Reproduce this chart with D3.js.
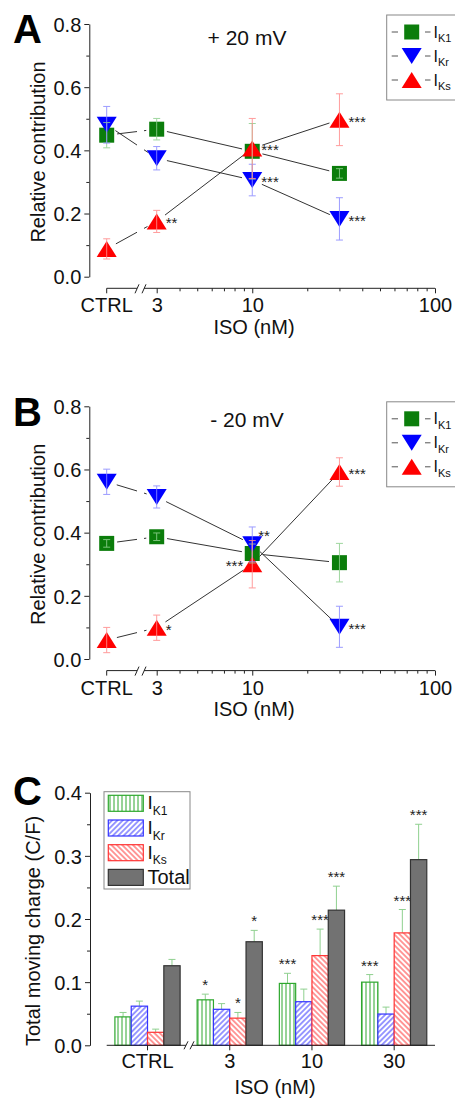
<!DOCTYPE html>
<html>
<head>
<meta charset="utf-8">
<script src="https://cdn.jsdelivr.net/npm/d3@7"></script>
<style>
  body { margin: 0; background: #fff; }
  text { font-family: "Liberation Sans", Arial, sans-serif; fill: #111; }
</style>
</head>
<body>
<div id="chart"></div>
<script>
/* global d3 */

// ---- data ----
const conc = ["CTRL", 3, 10, 30];
const subs = ["K1", "Kr", "Ks"];

// panel A (+20 mV), relative contribution
const aK1 = [0.448, 0.467, 0.397, 0.327];
const aK1Err = [0.04, 0.034, 0.088, 0.015];
const aKr = [0.481, 0.375, 0.306, 0.183];
const aKrErr = [0.058, 0.037, 0.05, 0.067];
const aKs = [0.088, 0.175, 0.406, 0.497];
const aKsErr = [0.032, 0.035, 0.095, 0.082];
const aK1Stars = ["", "", "", ""];
const aKrStars = ["", "", "***", "***"];
const aKsStars = ["", "**", "***", "***"];

// panel B (-20 mV)
const bK1 = [0.366, 0.387, 0.334, 0.305];
const bK1Err = [0.012, 0.012, 0.03, 0.061];
const bKr = [0.561, 0.513, 0.363, 0.102];
const bKrErr = [0.04, 0.035, 0.055, 0.065];
const bKs = [0.06, 0.099, 0.30, 0.592];
const bKsErr = [0.04, 0.04, 0.075, 0.045];
const bK1Stars = ["", "", "", ""];
const bKrStars = ["", "", "**", "***"];
const bKsStars = ["", "*", "***", "***"];
// where the star label sits: r = right, l = left, u = upper right
const bKrSide = ["r", "r", "u", "r"];
const bKsSide = ["r", "r", "l", "r"];

// panel C, total moving charge
const groups = ["CTRL", "3", "10", "30"];
const barKeys = ["IK1", "IKr", "IKs", "Total"];
const cK1 = [0.045, 0.072, 0.098, 0.100];
const cK1Err = [0.007, 0.009, 0.016, 0.012];
const cKr = [0.062, 0.057, 0.069, 0.0495];
const cKrErr = [0.008, 0.009, 0.02, 0.011];
const cKs = [0.0206, 0.043, 0.142, 0.178];
const cKsErr = [0.005, 0.009, 0.042, 0.037];
const cTot = [0.126, 0.164, 0.214, 0.294];
const cTotErr = [0.01, 0.018, 0.038, 0.056];
const cK1Stars = ["", "*", "***", "***"];
const cKrStars = ["", "", "", ""];
const cKsStars = ["", "*", "***", "***"];
const cTotStars = ["", "*", "***", "***"];

// ---- setup ----
const svg = d3.select("#chart").append("svg")
  .attr("width", 455).attr("height", 1100);

const green = "#0b7d0b", blue = "#0000ff", red = "#ff0000";
const axisColor = "#222";

const defs = svg.append("defs");
function hatch(id, color, angle, gap) {
  const p = defs.append("pattern")
    .attr("id", id)
    .attr("patternUnits", "userSpaceOnUse")
    .attr("width", gap).attr("height", gap)
    .attr("patternTransform", `rotate(${angle})`);
  p.append("rect").attr("width", gap).attr("height", gap).attr("fill", "#fff");
  p.append("line")
    .attr("x1", gap / 2).attr("x2", gap / 2)
    .attr("y1", 0).attr("y2", gap)
    .attr("stroke", color).attr("stroke-width", 1);
}
hatch("hK1", "#2ea82e", 0, 4);
hatch("hKr", "#3333ff", 45, 3.8);
hatch("hKs", "#ff3333", -45, 3.8);

// x scale shared by A and B (log, with broken-off CTRL position)
const x = d3.scaleLog().domain([3, 100]).range([156.7, 435]);
const xc = d => d === "CTRL" ? x(3) - 50 : x(d);
const breakL = 137, breakR = 144;

const shapes = {
  square: "M-7.5,-7.5H7.5V7.5H-7.5Z",
  down: "M-10,-8L10,-8L0,8Z",
  up: "M-10,8L10,8L0,-8Z"
};

function panelLetter(g, letter, yb) {
  g.append("text")
    .attr("x", 13).attr("y", yb)
    .style("font-size", "40px").style("font-weight", "bold")
    .style("fill", "#000")
    .text(letter);
}

function subLabel(g, xPos, yPos, sub, size, subSize) {
  const t = g.append("text").attr("x", xPos).attr("y", yPos)
    .style("font-size", size + "px");
  t.append("tspan").text("I");
  t.append("tspan").attr("dy", size * 0.3).style("font-size", subSize + "px").text(sub);
}

function linePanel(off, letter, title, series, legTop) {
  const g = svg.append("g").attr("transform", `translate(0,${off})`);
  const y = d3.scaleLinear().domain([0, 0.8]).range([276.7, 24]);
  const axisY = 288.3;

  // y axis
  const yAx = g.append("g").attr("transform", "translate(89.3,0)")
    .call(d3.axisLeft(y).tickValues([0, 0.2, 0.4, 0.6, 0.8])
      .tickFormat(d3.format(".1f")).tickSize(5).tickSizeOuter(0).tickPadding(3));
  yAx.selectAll("text").style("font-size", "20px").attr("dy", "0.36em");
  g.append("g").attr("transform", "translate(89.3,0)")
    .call(d3.axisLeft(y).tickValues([0.1, 0.3, 0.5, 0.7]).tickFormat("").tickSize(3).tickSizeOuter(0))
    .select(".domain").remove();

  // x axis
  const xAx = g.append("g").attr("transform", `translate(0,${axisY})`)
    .call(d3.axisBottom(x).tickValues([3, 10, 100]).tickFormat(d3.format("d"))
      .tickSize(5).tickSizeOuter(0).tickPadding(5));
  xAx.select(".domain").remove();
  xAx.selectAll("text").style("font-size", "20px");
  g.append("g").attr("transform", `translate(0,${axisY})`)
    .call(d3.axisBottom(x).tickValues([4, 5, 6, 7, 8, 9, 20, 30, 40, 50, 60, 70, 80, 90])
      .tickFormat("").tickSize(3).tickSizeOuter(0))
    .select(".domain").remove();
  const xa = g.append("g").attr("transform", `translate(0,${axisY})`);
  xa.append("path")
    .attr("d", `M${xc("CTRL")},0H${breakL}M${breakR},0H${x(100)}`)
    .attr("stroke", axisColor).attr("fill", "none");
  xa.append("line").attr("x1", xc("CTRL")).attr("x2", xc("CTRL"))
    .attr("y1", 0).attr("y2", 5).attr("stroke", axisColor);
  xa.append("text").attr("x", xc("CTRL")).attr("y", 10).attr("dy", "0.71em")
    .attr("text-anchor", "middle").style("font-size", "20px").text("CTRL");
  [breakL, breakR].forEach(bx => {
    xa.append("line").attr("x1", bx - 2).attr("y1", 5).attr("x2", bx + 2).attr("y2", -4)
      .attr("stroke", axisColor);
  });
  g.selectAll(".tick line").attr("stroke", axisColor);
  g.selectAll(".domain").attr("stroke", axisColor);

  // axis titles
  g.append("text").attr("transform", "translate(44.5,152) rotate(-90)")
    .attr("text-anchor", "middle").style("font-size", "20px")
    .text("Relative contribution");
  g.append("text").attr("x", 254).attr("y", 333.5)
    .attr("text-anchor", "middle").style("font-size", "20px").text("ISO (nM)");
  g.append("text").attr("x", 247).attr("y", 45)
    .attr("text-anchor", "middle").style("font-size", "21px").text(title);
  panelLetter(g, letter, 43.3);

  // connecting lines with gaps around markers and at the axis break
  const gap = 10.5;
  series.forEach(s => {
    const pts = conc.map((c, i) => [xc(c), y(s.vals[i])]);
    for (let i = 0; i < pts.length - 1; i++) {
      const [x0, y0] = pts[i], [x1, y1] = pts[i + 1];
      const len = Math.hypot(x1 - x0, y1 - y0);
      const ux = (x1 - x0) / len, uy = (y1 - y0) / len;
      const a = [x0 + ux * gap, y0 + uy * gap], b = [x1 - ux * gap, y1 - uy * gap];
      const at = xx => y0 + (y1 - y0) * (xx - x0) / (x1 - x0);
      let d;
      if (x0 < breakL && x1 > breakR) {
        d = `M${a[0]},${a[1]}L${breakL},${at(breakL)}M${breakR},${at(breakR)}L${b[0]},${b[1]}`;
      } else {
        d = `M${a[0]},${a[1]}L${b[0]},${b[1]}`;
      }
      g.append("path").attr("d", d).attr("stroke", "#333").attr("stroke-width", 1).attr("fill", "none");
    }
  });

  // markers
  series.forEach(s => {
    g.selectAll(null).data(s.vals).join("path")
      .attr("d", shapes[s.shape])
      .attr("transform", (d, i) => `translate(${xc(conc[i])},${y(d)})`)
      .attr("fill", s.color);
  });

  // error bars over markers (light)
  series.forEach(s => {
    const eg = g.append("g").attr("stroke", s.errColor).attr("stroke-width", 1).attr("opacity", 0.85);
    s.vals.forEach((v, i) => {
      const cx = xc(conc[i]);
      const yt = y(v + s.errs[i]), yb = y(v - s.errs[i]);
      eg.append("line").attr("x1", cx).attr("x2", cx).attr("y1", yt).attr("y2", yb);
      eg.append("line").attr("x1", cx - 3.5).attr("x2", cx + 3.5).attr("y1", yt).attr("y2", yt);
      eg.append("line").attr("x1", cx - 3.5).attr("x2", cx + 3.5).attr("y1", yb).attr("y2", yb);
    });
  });

  // significance stars
  series.forEach(s => {
    s.stars.forEach((st, i) => {
      if (!st) return;
      const side = s.side ? s.side[i] : "r";
      const cx = xc(conc[i]), cy = y(s.vals[i]);
      g.append("text")
        .attr("x", side === "l" ? cx - 9 : side === "u" ? cx + 6 : cx + 9)
        .attr("y", side === "u" ? cy - 3 : cy + 7)
        .attr("text-anchor", side === "l" ? "end" : "start")
        .style("font-size", "15px").style("fill", "#222")
        .text(st);
    });
  });

  // legend
  const lg = g.append("g");
  lg.append("rect").attr("x", 386.7).attr("y", legTop).attr("width", 80).attr("height", 85)
    .attr("fill", "#fff").attr("stroke", "#888").attr("stroke-width", 1);
  series.forEach((s, i) => {
    const ry = legTop + 17 + i * 24;
    lg.append("path").attr("d", `M391.7,${ry}H398M425,${ry}H430.5`).attr("stroke", "#555");
    lg.append("path").attr("d", shapes[s.shape]).attr("transform", `translate(411.7,${ry})`)
      .attr("fill", s.color);
    subLabel(lg, 433.5, ry + 5.5, subs[i], 16, 11);
  });
}

linePanel(0, "A", "+ 20 mV", [
  {vals: aK1, errs: aK1Err, stars: aK1Stars, shape: "square", color: green, errColor: "#8fd08f"},
  {vals: aKr, errs: aKrErr, stars: aKrStars, shape: "down", color: blue, errColor: "#8c8cff"},
  {vals: aKs, errs: aKsErr, stars: aKsStars, shape: "up", color: red, errColor: "#ff8c8c"}
], 15);

linePanel(382.3, "B", "- 20 mV", [
  {vals: bK1, errs: bK1Err, stars: bK1Stars, shape: "square", color: green, errColor: "#8fd08f"},
  {vals: bKr, errs: bKrErr, stars: bKrStars, side: bKrSide, shape: "down", color: blue, errColor: "#8c8cff"},
  {vals: bKs, errs: bKsErr, stars: bKsStars, side: bKsSide, shape: "up", color: red, errColor: "#ff8c8c"}
], 19.5);

// ---- panel C: bar chart ----
const gc = svg.append("g");
const yC = d3.scaleLinear().domain([0, 0.4]).range([1045.3, 792.7]);
const x0 = d3.scaleBand().domain(groups).range([106.7, 435]).paddingInner(0.207).paddingOuter(0.1);
const x1 = d3.scaleBand().domain(barKeys).range([0, x0.bandwidth()]);

const yAxC = gc.append("g").attr("transform", "translate(90,0)")
  .call(d3.axisLeft(yC).tickValues([0, 0.1, 0.2, 0.3, 0.4]).tickFormat(d3.format(".1f"))
    .tickSize(5).tickSizeOuter(0).tickPadding(3));
yAxC.selectAll("text").style("font-size", "20px").attr("dy", "0.36em");
gc.append("g").attr("transform", "translate(90,0)")
  .call(d3.axisLeft(yC).tickValues([0.05, 0.15, 0.25, 0.35]).tickFormat("").tickSize(3).tickSizeOuter(0))
  .select(".domain").remove();

const barSeries = [
  {key: "IK1", vals: cK1, errs: cK1Err, stars: cK1Stars, fill: "url(#hK1)", stroke: "#2ea82e"},
  {key: "IKr", vals: cKr, errs: cKrErr, stars: cKrStars, fill: "url(#hKr)", stroke: "#3333ff"},
  {key: "IKs", vals: cKs, errs: cKsErr, stars: cKsStars, fill: "url(#hKs)", stroke: "#ff3333"},
  {key: "Total", vals: cTot, errs: cTotErr, stars: cTotStars, fill: "#727272", stroke: "#333"}
];

const errC = "#8fd08f";
barSeries.forEach(s => {
  const bw = x1.bandwidth();
  gc.selectAll(null).data(s.vals).join("line")
    .attr("x1", (d, i) => x0(groups[i]) + x1(s.key) + bw / 2)
    .attr("x2", (d, i) => x0(groups[i]) + x1(s.key) + bw / 2)
    .attr("y1", d => yC(d))
    .attr("y2", (d, i) => yC(d + s.errs[i]))
    .attr("stroke", errC);
  gc.selectAll(null).data(s.vals).join("line")
    .attr("x1", (d, i) => x0(groups[i]) + x1(s.key) + bw / 2 - 3.5)
    .attr("x2", (d, i) => x0(groups[i]) + x1(s.key) + bw / 2 + 3.5)
    .attr("y1", (d, i) => yC(d + s.errs[i]))
    .attr("y2", (d, i) => yC(d + s.errs[i]))
    .attr("stroke", errC);
  gc.selectAll(null).data(s.vals).join("rect")
    .attr("x", (d, i) => x0(groups[i]) + x1(s.key))
    .attr("y", d => yC(d))
    .attr("width", bw)
    .attr("height", d => yC(0) - yC(d))
    .attr("fill", s.fill)
    .attr("stroke", s.stroke)
    .attr("stroke-width", 1.2);
  gc.selectAll(null).data(s.stars).join("text")
    .attr("x", (d, i) => x0(groups[i]) + x1(s.key) + bw / 2)
    .attr("y", (d, i) => yC(s.vals[i] + s.errs[i]) - 4)
    .attr("text-anchor", "middle")
    .style("font-size", "15px").style("fill", "#222")
    .text(d => d);
});

// x axis C
const xAxC = gc.append("g").attr("transform", `translate(0,${yC(0)})`)
  .call(d3.axisBottom(x0).tickSize(5).tickSizeOuter(0).tickPadding(4));
xAxC.select(".domain").remove();
xAxC.selectAll("text").style("font-size", "20px");
const cBreakL = 186, cBreakR = 192;
gc.append("path")
  .attr("d", `M106.7,${yC(0)}H${cBreakL}M${cBreakR},${yC(0)}H435`)
  .attr("stroke", axisColor).attr("fill", "none");
[cBreakL, cBreakR].forEach(bx => {
  gc.append("line").attr("x1", bx - 2).attr("y1", yC(0) + 4).attr("x2", bx + 2).attr("y2", yC(0) - 4)
    .attr("stroke", axisColor);
});
gc.selectAll(".tick line").attr("stroke", axisColor);
gc.selectAll(".domain").attr("stroke", axisColor);

gc.append("text").attr("transform", "translate(40,931) rotate(-90)")
  .attr("text-anchor", "middle").style("font-size", "20px")
  .text("Total moving charge (C/F)");
gc.append("text").attr("x", 275).attr("y", 1094)
  .attr("text-anchor", "middle").style("font-size", "20px").text("ISO (nM)");
panelLetter(gc, "C", 805);

// legend C
const lc = gc.append("g");
lc.append("rect").attr("x", 104).attr("y", 791.7).attr("width", 86).attr("height", 97.3)
  .attr("fill", "#fff").attr("stroke", "#888");
barSeries.forEach((s, i) => {
  const ry = 803.3 + i * 24.7;
  lc.append("rect").attr("x", 108.3).attr("y", ry - 8).attr("width", 35).attr("height", 16)
    .attr("fill", s.fill).attr("stroke", s.stroke).attr("stroke-width", 1.2);
  if (i < 3) subLabel(lc, 147.5, ry + 6, subs[i], 19, 12);
  else lc.append("text").attr("x", 147.5).attr("y", ry + 7).style("font-size", "20px").text("Total");
});
</script>
</body>
</html>
